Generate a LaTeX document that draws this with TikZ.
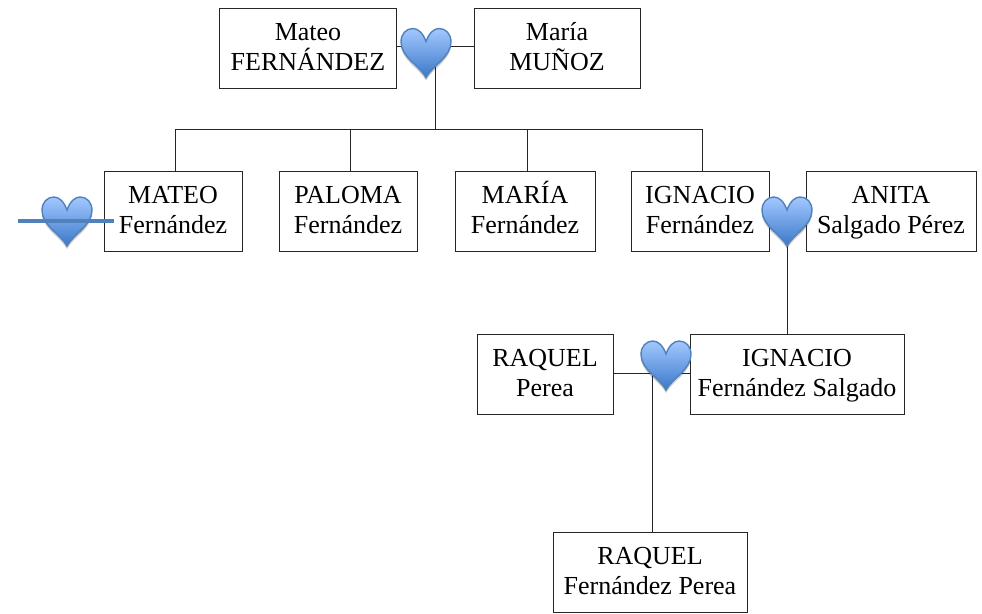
\documentclass[tikz,border=0pt]{standalone}
\usepackage{fontspec}
\setmainfont{Liberation Serif}
\usetikzlibrary{calc,shadows}

\definecolor{heartTop}{HTML}{A3C8FF}
\definecolor{heartBottom}{HTML}{3A78C9}
\definecolor{heartLine}{HTML}{4F81BD}

\newcommand{\twolines}[2]{\rule{0pt}{28pt}#1\\#2\rule[-13.5pt]{0pt}{13.5pt}}

\begin{document}
\begin{tikzpicture}[x=1pt,y=-1pt,font=\fontsize{26}{30.5}\selectfont,
person/.style={draw=black!85, line width=1pt, align=center, minimum height=80pt, inner sep=0pt},
link/.style={draw=black!85, line width=1pt},
strike/.style={draw=heartLine, line width=4.5pt},
pics/heart/.style={code={
    \path[draw=heartLine, line width=1.4pt, top color=heartTop, bottom color=heartBottom,
        drop shadow={shadow xshift=0pt, shadow yshift=-3pt, opacity=0.2, fill=black}]
        (0,-11.5) .. controls (-3,-20) and (-8,-24.5) .. (-13,-24.5)
        .. controls (-20,-24.5) and (-25,-19) .. (-25,-11)
        .. controls (-25,4) and (-6,13) .. (0,24.5)
        .. controls (6,13) and (25,4) .. (25,-11)
        .. controls (25,-19) and (20,-24.5) .. (13,-24.5)
        .. controls (8,-24.5) and (3,-20) .. (0,-11.5) -- cycle;
}}]

    \useasboundingbox (0,0) rectangle (982,613);

    \node[person, minimum width=177pt] (mateoSr) at (308,48) {\twolines{Mateo}{FERNÁNDEZ}};
    \node[person, minimum width=166pt] (mariaSr) at (557,48) {\twolines{María}{MUÑOZ}};

    \node[person, minimum width=138pt] (mateo) at (173,211) {\twolines{MATEO}{Fernández}};
    \node[person, minimum width=138pt] (paloma) at (348,211) {\twolines{PALOMA}{Fernández}};
    \node[person, minimum width=140pt] (maria) at (525,211) {\twolines{MARÍA}{Fernández}};
    \node[person, minimum width=138pt] (ignacio) at (700,211) {\twolines{IGNACIO}{Fernández}};
    \node[person, minimum width=170pt] (anita) at (891,211) {\twolines{ANITA}{Salgado Pérez}};

    \node[person, minimum width=136pt] (raquel) at (545,374) {\twolines{RAQUEL}{Perea}};
    \node[person, minimum width=214pt] (ignacioJr) at (797,374) {\twolines{IGNACIO}{Fernández Salgado}};
    \node[person, minimum width=194pt] (raquelJr) at (650,572) {\twolines{RAQUEL}{Fernández Perea}};

    % couples
    \coordinate (busTop) at (435,46);
    \coordinate (busLeft) at (175,129);
    \coordinate (busRight) at (702,129);
    \coordinate (coupleIgnacio) at (787,222);
    \coordinate (coupleRaquel) at (652,373);
    \coordinate (strikeStart) at (18,221);
    \coordinate (strikeEnd) at (114,221);

    \draw[link] ($(mateoSr.east)+(0,-2)$) -- ($(mariaSr.west)+(0,-2)$);
    \draw[link] (busTop) -- (busTop|-busLeft);
    \draw[link] (busLeft) -- (busRight);
    \draw[link] (busLeft) -- (busLeft|-mateo.north);
    \draw[link] (paloma.north|-busLeft) ++(2,0) -- ++(0,42);
    \draw[link] (maria.north|-busLeft) ++(2,0) -- ++(0,42);
    \draw[link] (busRight) -- (busRight|-ignacio.north);
    \draw[link] (coupleIgnacio) -- (coupleIgnacio|-ignacioJr.north);
    \draw[link] (coupleRaquel-|raquel.east) -- (coupleRaquel-|ignacioJr.west);
    \draw[link] (coupleRaquel) -- (coupleRaquel|-raquelJr.north);

    \pic at (426,53) {heart};
    \pic at (67,221.5) {heart};
    \pic at (787,221.5) {heart};
    \pic at (666,365.5) {heart};

    \draw[strike] (strikeStart) -- (strikeEnd);
\end{tikzpicture}
\end{document}
